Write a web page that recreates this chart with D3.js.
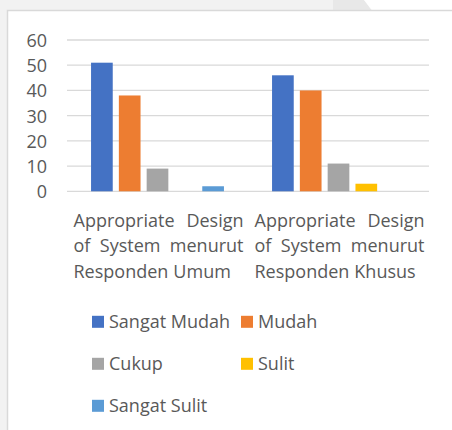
<!DOCTYPE html>
<meta charset="utf-8" />
<script src="https://d3js.org/d3.v7.min.js"></script>
<style>
  body { margin: 0; background: #ffffff; }
  text { font-family: "Open Sans", sans-serif; fill: #595959; }
</style>
<div id="chart"></div>
<script>
  var width = 452;
  var height = 430;

  // data
  var categories = [
    "Appropriate Design of System menurut Responden Umum",
    "Appropriate Design of System menurut Responden Khusus"
  ];
  var categoryLines = [
    ["Appropriate Design", "of System menurut", "Responden Umum"],
    ["Appropriate Design", "of System menurut", "Responden Khusus"]
  ];
  var series = ["Sangat Mudah", "Mudah", "Cukup", "Sulit", "Sangat Sulit"];
  var sangatMudah = [51, 46];
  var mudah = [38, 40];
  var cukup = [9, 11];
  var sulit = [0, 3];
  var sangatSulit = [2, 0];
  var yTicks = [0, 10, 20, 30, 40, 50, 60];
  var colors = ["#4472c4", "#ed7d31", "#a5a5a5", "#ffc000", "#5b9bd5"];

  var values = [sangatMudah, mudah, cukup, sulit, sangatSulit];
  var table = [];
  categories.forEach(function(c, i) {
    series.forEach(function(s, j) {
      table.push({ category: c, series: s, value: values[j][i] });
    });
  });

  var svg = d3
    .select("#chart")
    .append("svg")
    .attr("width", width)
    .attr("height", height);

  // page background around the chart box
  svg.append("rect").attr("width", width).attr("height", height).attr("fill", "#f2f2f2");
  svg.append("polygon")
    .attr("points", "333,0 364,0 372,10.5 333,10.5")
    .attr("fill", "#e8e8e8");
  svg.append("polygon")
    .attr("points", "364,0 452,0 452,10.5 372,10.5")
    .attr("fill", "#ffffff");
  svg.append("rect")
    .attr("x", 7.5).attr("y", 10.5)
    .attr("width", width).attr("height", height)
    .attr("fill", "#ffffff")
    .attr("stroke", "#d9d9d9")
    .attr("stroke-width", 1.5);

  var x0 = d3.scaleBand().domain(categories).range([67, 429]);
  var x1 = d3
    .scaleBand()
    .domain(series)
    .range([0, x0.bandwidth()])
    .paddingInner(0.22)
    .paddingOuter(0.865);
  var y = d3.scaleLinear().domain([0, 60]).range([191.3, 40]);
  var color = d3.scaleOrdinal().domain(series).range(colors);

  // gridlines
  svg.append("g")
    .selectAll("line")
    .data(yTicks)
    .enter()
    .append("line")
    .attr("x1", 67)
    .attr("x2", 429)
    .attr("y1", function(d) { return y(d); })
    .attr("y2", function(d) { return y(d); })
    .attr("stroke", "#d9d9d9")
    .attr("stroke-width", 1.3);

  // y axis labels
  var yAxis = svg.append("g")
    .attr("transform", "translate(47,0)")
    .call(d3.axisLeft(y).tickValues(yTicks).tickSize(0).tickPadding(0));
  yAxis.select(".domain").remove();
  yAxis.selectAll("text")
    .attr("font-size", 18)
    .attr("font-family", "Open Sans, sans-serif")
    .attr("fill", "#595959")
    .attr("dy", "0.36em");

  // bars
  svg.append("g")
    .selectAll("rect")
    .data(table.filter(function(d) { return d.value > 0; }))
    .enter()
    .append("rect")
    .attr("x", function(d) { return x0(d.category) + x1(d.series); })
    .attr("y", function(d) { return y(d.value); })
    .attr("width", x1.bandwidth())
    .attr("height", function(d) { return y(0) - y(d.value); })
    .attr("fill", function(d) { return color(d.series); });

  // category labels, first lines justified like the original
  var blockW = 170;
  var lineY = [226.7, 252.3, 277.5];
  categories.forEach(function(c, i) {
    var left = x0(c) + x0.bandwidth() / 2 - blockW / 2 + 1;
    categoryLines[i].forEach(function(line, k) {
      var words = line.split(" ");
      var g = svg.append("g");
      var nodes = words.map(function(w) {
        return g.append("text")
          .attr("font-size", 18)
          .attr("y", lineY[k])
          .text(w);
      });
      var widths = nodes.map(function(n) { return n.node().getComputedTextLength(); });
      var total = d3.sum(widths);
      var gap = k < 2 ? (blockW - total) / (words.length - 1) : 5;
      var cx = left;
      nodes.forEach(function(n, j) {
        n.attr("x", cx);
        cx += widths[j] + gap;
      });
    });
  });

  // legend
  var legendX = [92, 241];
  var legendY = [328.3, 370.3, 412.3];
  var legend = svg.append("g")
    .selectAll("g")
    .data(series)
    .enter()
    .append("g")
    .attr("transform", function(d, i) {
      return "translate(" + legendX[i % 2] + "," + legendY[Math.floor(i / 2)] + ")";
    });
  legend.append("rect")
    .attr("x", 0)
    .attr("y", -12.5)
    .attr("width", 12)
    .attr("height", 12)
    .attr("fill", function(d) { return color(d); });
  legend.append("text")
    .attr("x", 17)
    .attr("y", 0)
    .attr("font-size", 18)
    .text(function(d) { return d; });
</script>
